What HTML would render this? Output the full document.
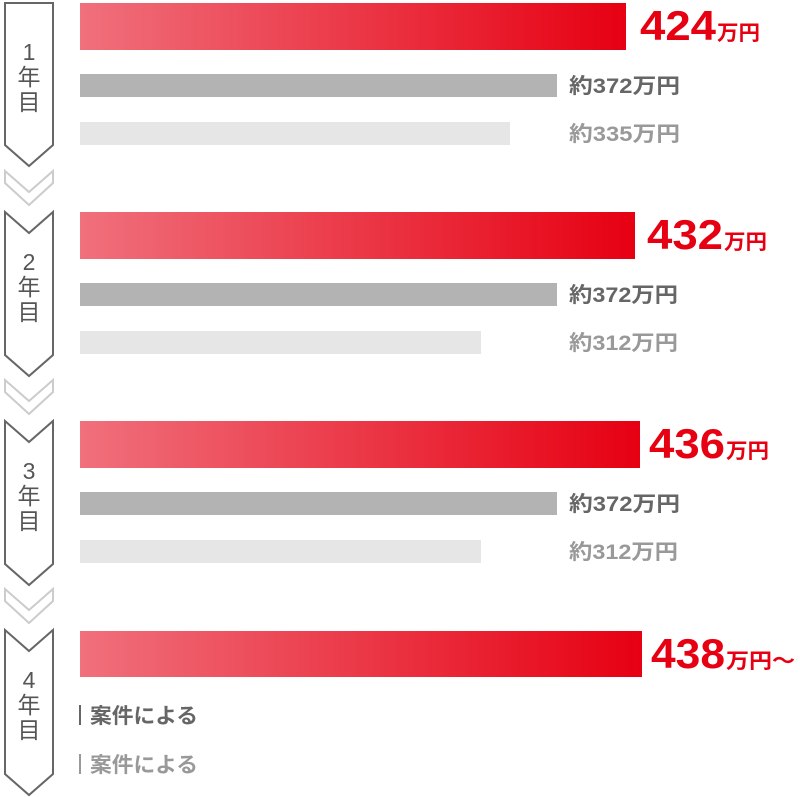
<!DOCTYPE html>
<html><head><meta charset="utf-8"><style>
html,body{margin:0;padding:0;background:#fff;}
svg{display:block}
.big{font-family:"Liberation Sans","Noto Sans CJK JP",sans-serif;font-weight:bold;fill:#e60012}
.g{font-family:"Liberation Sans","Noto Sans CJK JP",sans-serif;font-weight:bold;font-size:21px}
.yr{font-family:"Liberation Sans","Noto Sans CJK JP",sans-serif;font-size:23px;fill:#555}
</style></head><body>
<svg width="800" height="797" viewBox="0 0 800 797" xmlns="http://www.w3.org/2000/svg">
<defs><linearGradient id="rg" x1="0" x2="1" y1="0" y2="0"><stop offset="0" stop-color="#f0707c"/><stop offset="1" stop-color="#e60012"/></linearGradient></defs>
<g fill="#fff" stroke="#666" stroke-width="2">
<path d="M5,3 H53 V145 L29,166 L5,145 Z"/>
<path d="M5,212 L29,233 L53,212 V355 L29,376 L5,355 Z"/>
<path d="M5,421 L29,442 L53,421 V564 L29,585 L5,564 Z"/>
<path d="M5,630 L29,651 L53,630 V774 L29,795 L5,774 Z"/>
</g>
<g fill="none" stroke="#ccc" stroke-width="2">
<path d="M5,171 L29,192 L53,171 V183 L29,205 L5,183 Z"/>
<path d="M5,380 L29,401 L53,380 V392 L29,414 L5,392 Z"/>
<path d="M5,589 L29,610 L53,589 V601 L29,623 L5,601 Z"/>
</g>
<g class="yr" text-anchor="middle">
<text x="29" y="60">1</text><text x="29" y="85">年</text><text x="29" y="110">目</text>
<text x="29" y="270">2</text><text x="29" y="295">年</text><text x="29" y="320">目</text>
<text x="29" y="479">3</text><text x="29" y="504">年</text><text x="29" y="529">目</text>
<text x="29" y="688">4</text><text x="29" y="713">年</text><text x="29" y="738">目</text>
</g>
<rect x="80" y="3" width="546" height="47" fill="url(#rg)"/>
<rect x="80" y="74" width="477" height="23" fill="#b3b3b3"/>
<rect x="80" y="122" width="430" height="23" fill="#e6e6e6"/>
<rect x="80" y="212" width="555" height="47" fill="url(#rg)"/>
<rect x="80" y="283" width="477" height="23" fill="#b3b3b3"/>
<rect x="80" y="331" width="401" height="23" fill="#e6e6e6"/>
<rect x="80" y="421" width="560" height="47" fill="url(#rg)"/>
<rect x="80" y="492" width="477" height="23" fill="#b3b3b3"/>
<rect x="80" y="540" width="401" height="23" fill="#e6e6e6"/>
<rect x="80" y="631" width="562" height="46" fill="url(#rg)"/>
<g class="big">
<text x="640" y="40" font-size="42" textLength="76" lengthAdjust="spacingAndGlyphs">424</text><text x="717" y="40" font-size="21" textLength="43" lengthAdjust="spacingAndGlyphs">万円</text>
<text x="647" y="249" font-size="42" textLength="76" lengthAdjust="spacingAndGlyphs">432</text><text x="724" y="249" font-size="21" textLength="43" lengthAdjust="spacingAndGlyphs">万円</text>
<text x="649" y="458" font-size="42" textLength="76" lengthAdjust="spacingAndGlyphs">436</text><text x="726" y="458" font-size="21" textLength="43" lengthAdjust="spacingAndGlyphs">万円</text>
<text x="651" y="668" font-size="42" textLength="74" lengthAdjust="spacingAndGlyphs">438</text><text x="726" y="668" font-size="21" textLength="69" lengthAdjust="spacingAndGlyphs">万円～</text>
</g>
<g class="g">
<text x="569" y="93" fill="#666" textLength="111" lengthAdjust="spacingAndGlyphs">約372万円</text>
<text x="569" y="141" fill="#999" textLength="111" lengthAdjust="spacingAndGlyphs">約335万円</text>
<text x="569" y="302" fill="#666" textLength="109" lengthAdjust="spacingAndGlyphs">約372万円</text>
<text x="569" y="350" fill="#999" textLength="109" lengthAdjust="spacingAndGlyphs">約312万円</text>
<text x="569" y="511" fill="#666" textLength="111" lengthAdjust="spacingAndGlyphs">約372万円</text>
<text x="569" y="559" fill="#999" textLength="109" lengthAdjust="spacingAndGlyphs">約312万円</text>
<text x="90" y="723" fill="#666" textLength="108" lengthAdjust="spacingAndGlyphs">案件による</text>
<text x="90" y="772" fill="#999" textLength="108" lengthAdjust="spacingAndGlyphs">案件による</text>
</g>
<rect x="79" y="705" width="2" height="20" fill="#666"/>
<rect x="79" y="754" width="2" height="20" fill="#999"/>
</svg>
</body></html>
